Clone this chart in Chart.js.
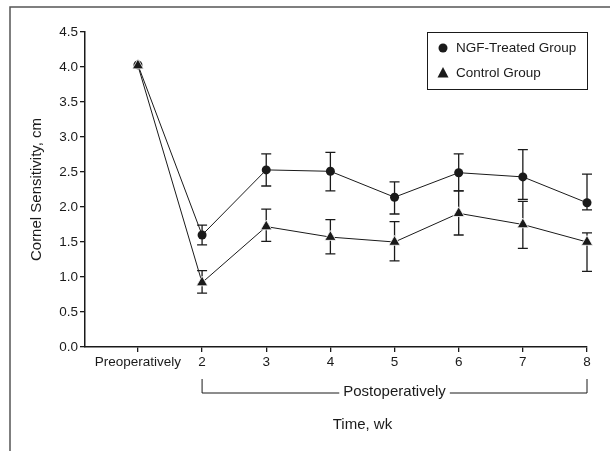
<!DOCTYPE html>
<html>
<head>
<meta charset="utf-8">
<script src="https://cdn.jsdelivr.net/npm/chart.js@4/dist/chart.umd.min.js"></script>
<style>
  html, body { margin: 0; padding: 0; background: #fff; }
  canvas { display: block; }
</style>
</head>
<body>
<canvas id="chart" width="610" height="451"></canvas>
<script>
// === DATA ===
const xPos = [1, 2, 3, 4, 5, 6, 7, 8];
const xLabels = ['Preoperatively', '2', '3', '4', '5', '6', '7', '8'];

const ngfMean  = [4.03, 1.60, 2.53, 2.51, 2.14, 2.49, 2.43, 2.06];
const ngfUpper = [null, 1.74, 2.76, 2.78, 2.36, 2.76, 2.82, 2.47];
const ngfLower = [null, 1.46, 2.30, 2.23, 1.90, 2.23, 2.11, 1.96];

const ctrlMean  = [4.02, 0.92, 1.72, 1.57, 1.50, 1.91, 1.75, 1.50];
const ctrlUpper = [null, 1.09, 1.97, 1.82, 1.79, 2.23, 2.08, 1.63];
const ctrlLower = [null, 0.77, 1.51, 1.33, 1.23, 1.60, 1.41, 1.08];

const FONT = '"Liberation Sans Narrow", "Liberation Sans", Arial, sans-serif';
const INK = '#1a1a1a';

const toPoints = arr => arr.map((v, i) => ({ x: xPos[i], y: v }));

// Error bars, bracket, titles, legend and frame
const extrasPlugin = {
    id: 'extras',
    beforeDatasetsDraw(chart) {
        const { ctx, scales: { x, y } } = chart;
        const cap = 5;
        ctx.save();
        ctx.strokeStyle = INK;
        ctx.lineWidth = 1.3;
        [[ngfUpper, ngfLower], [ctrlUpper, ctrlLower]].forEach(([up, lo]) => {
            xPos.forEach((xv, i) => {
                if (up[i] == null) return;
                const px = x.getPixelForValue(xv);
                const pTop = y.getPixelForValue(up[i]);
                const pBot = y.getPixelForValue(lo[i]);
                ctx.beginPath();
                ctx.moveTo(px, pTop); ctx.lineTo(px, pBot);
                ctx.moveTo(px - cap, pTop); ctx.lineTo(px + cap, pTop);
                ctx.moveTo(px - cap, pBot); ctx.lineTo(px + cap, pBot);
                ctx.stroke();
            });
        });
        ctx.restore();
    },
    afterDraw(chart) {
        const { ctx, scales: { x, y } } = chart;
        ctx.save();

        // outer frame (left + top only)
        ctx.strokeStyle = '#555';
        ctx.lineWidth = 1.5;
        ctx.beginPath();
        ctx.moveTo(10, 451); ctx.lineTo(10, 7); ctx.lineTo(610, 7);
        ctx.stroke();

        // Postoperatively bracket
        const bx0 = x.getPixelForValue(2);
        const bx1 = x.getPixelForValue(8);
        const by = 393;
        ctx.font = '15px ' + FONT;
        ctx.fillStyle = INK;
        ctx.textAlign = 'center';
        ctx.textBaseline = 'middle';
        const postText = 'Postoperatively';
        const postX = x.getPixelForValue(5);
        const halfW = ctx.measureText(postText).width / 2 + 4;
        ctx.strokeStyle = INK;
        ctx.lineWidth = 1;
        ctx.beginPath();
        ctx.moveTo(bx0, 379); ctx.lineTo(bx0, by); ctx.lineTo(postX - halfW, by);
        ctx.moveTo(postX + halfW, by); ctx.lineTo(bx1, by); ctx.lineTo(bx1, 379);
        ctx.stroke();
        ctx.fillText(postText, postX, by - 1);

        // x title
        ctx.fillText('Time, wk', (x.getPixelForValue(1) + bx1) / 2, 425);

        // y title
        ctx.save();
        ctx.translate(37, (y.top + y.bottom) / 2);
        ctx.rotate(-Math.PI / 2);
        ctx.fillText('Cornel Sensitivity, cm', 0, 0);
        ctx.restore();

        // legend
        ctx.lineWidth = 1;
        ctx.strokeStyle = INK;
        ctx.strokeRect(427.5, 32.5, 160, 57);
        ctx.font = '13.5px ' + FONT;
        ctx.textAlign = 'left';
        ctx.fillText('NGF-Treated Group', 456, 48);
        ctx.fillText('Control Group', 456, 73);
        ctx.beginPath();
        ctx.arc(443, 48, 4.5, 0, Math.PI * 2);
        ctx.fill();
        ctx.beginPath();
        ctx.moveTo(443, 67); ctx.lineTo(448.5, 77.5); ctx.lineTo(437.5, 77.5);
        ctx.closePath();
        ctx.fill();

        ctx.restore();
    }
};

const axisCommon = {
    grid: { drawOnChartArea: false, drawTicks: true, tickLength: 5, color: INK, lineWidth: 1.3 },
    border: { color: INK, width: 1.5 },
    ticks: { color: INK, font: { family: FONT, size: 13.5 }, padding: 2 }
};

new Chart(document.getElementById('chart'), {
    type: 'line',
    data: {
        datasets: [
            {
                label: 'Control Group',
                data: toPoints(ctrlMean),
                borderColor: INK,
                borderWidth: 1,
                pointStyle: 'triangle',
                pointRadius: 6.5,
                pointBackgroundColor: INK,
                pointBorderColor: '#fff',
                pointBorderWidth: 0.8,
                clip: false,
                order: 0
            },
            {
                label: 'NGF-Treated Group',
                data: toPoints(ngfMean),
                borderColor: INK,
                borderWidth: 1,
                pointStyle: 'circle',
                pointRadius: 4.5,
                pointBackgroundColor: INK,
                pointBorderColor: INK,
                pointBorderWidth: 0,
                clip: false,
                order: 1
            }
        ]
    },
    options: {
        responsive: false,
        animation: false,
        devicePixelRatio: 1,
        layout: { padding: { top: 32, right: 23, left: 0, bottom: 0 } },
        plugins: { legend: { display: false }, tooltip: { enabled: false } },
        scales: {
            x: {
                ...axisCommon,
                type: 'linear',
                min: 0.175,
                max: 8,
                afterBuildTicks: s => { s.ticks = xPos.map(v => ({ value: v })); },
                afterFit: s => { s.height = 104; },
                ticks: {
                    ...axisCommon.ticks,
                    maxRotation: 0,
                    autoSkip: false,
                    callback: v => xLabels[xPos.indexOf(v)]
                }
            },
            y: {
                ...axisCommon,
                min: 0,
                max: 4.5,
                afterFit: s => { s.width = 85; },
                ticks: {
                    ...axisCommon.ticks,
                    stepSize: 0.5,
                    callback: v => v.toFixed(1)
                }
            }
        }
    },
    plugins: [extrasPlugin]
});
</script>
</body>
</html>
